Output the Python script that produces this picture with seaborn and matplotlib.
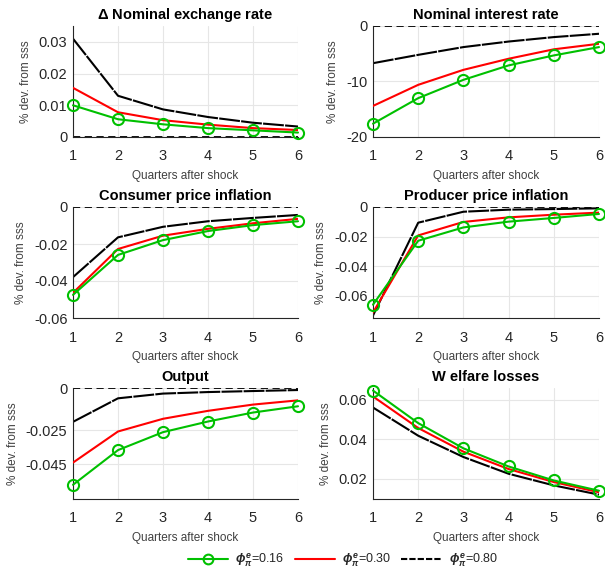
import matplotlib
matplotlib.use("Agg")
import matplotlib.pyplot as plt
import seaborn as sns
import pandas as pd
import numpy as np
from matplotlib.lines import Line2D

quarters = [1, 2, 3, 4, 5, 6]
series_labels = [r"$\phi_{\pi}^{e}$=0.16", r"$\phi_{\pi}^{e}$=0.30", r"$\phi_{\pi}^{e}$=0.80"]

titles = [r"$\mathbf{\Delta}$ Nominal exchange rate", "Nominal interest rate",
          "Consumer price inflation", "Producer price inflation",
          "Output", "W elfare losses"]

exch_016 = [0.0100, 0.0056, 0.0040, 0.0028, 0.0021, 0.0014]
exch_030 = [0.0155, 0.0078, 0.0053, 0.0039, 0.0028, 0.0022]
exch_080 = [0.0310, 0.0130, 0.0087, 0.0063, 0.0045, 0.0033]

int_016 = [-17.6, -13.0, -9.7, -7.1, -5.3, -3.8]
int_030 = [-14.4, -10.6, -7.9, -5.9, -4.2, -3.2]
int_080 = [-6.7, -5.2, -3.8, -2.8, -2.0, -1.4]

cpi_016 = [-0.0475, -0.0259, -0.0179, -0.0130, -0.0098, -0.0077]
cpi_030 = [-0.0464, -0.0227, -0.0155, -0.0118, -0.0088, -0.0064]
cpi_080 = [-0.0379, -0.0164, -0.0107, -0.0077, -0.0059, -0.0043]

ppi_016 = [-0.0660, -0.0228, -0.0138, -0.0099, -0.0074, -0.0047]
ppi_030 = [-0.0713, -0.0192, -0.0101, -0.0070, -0.0052, -0.0038]
ppi_080 = [-0.0733, -0.0106, -0.0032, -0.0018, -0.0014, -0.0009]

out_016 = [-0.0572, -0.0367, -0.0261, -0.0198, -0.0145, -0.0108]
out_030 = [-0.0441, -0.0257, -0.0182, -0.0135, -0.0098, -0.0073]
out_080 = [-0.0200, -0.0061, -0.0033, -0.0024, -0.0018, -0.0012]

wel_016 = [0.0647, 0.0482, 0.0354, 0.0262, 0.0191, 0.0139]
wel_030 = [0.0617, 0.0457, 0.0337, 0.0249, 0.0183, 0.0131]
wel_080 = [0.0561, 0.0418, 0.0310, 0.0225, 0.0166, 0.0119]

panels = [
    (exch_016, exch_030, exch_080),
    (int_016, int_030, int_080),
    (cpi_016, cpi_030, cpi_080),
    (ppi_016, ppi_030, ppi_080),
    (out_016, out_030, out_080),
    (wel_016, wel_030, wel_080),
]
ylims = [(0, 0.035), (-20, 0), (-0.06, 0), (-0.075, 0), (-0.0656, 0), (0.0097, 0.066)]
yticks = [[0, 0.01, 0.02, 0.03], [-20, -10, 0], [-0.06, -0.04, -0.02, 0],
          [-0.06, -0.04, -0.02, 0], [-0.045, -0.025, 0], [0.02, 0.04, 0.06]]
yticklabels = [["0", "0.01", "0.02", "0.03"], ["-20", "-10", "0"],
               ["-0.06", "-0.04", "-0.02", "0"], ["-0.06", "-0.04", "-0.02", "0"],
               ["-0.045", "-0.025", "0"], ["0.02", "0.04", "0.06"]]
zero_line = [True, True, True, True, True, False]

sns.set_theme(style="white")
plt.rcParams['font.family'] = ['Liberation Sans', 'DejaVu Sans']
plt.rcParams['mathtext.fontset'] = 'custom'
plt.rcParams['mathtext.rm'] = 'Liberation Sans'
plt.rcParams['mathtext.it'] = 'Liberation Sans:italic:bold'
plt.rcParams['mathtext.bf'] = 'Liberation Sans:bold'

fig = plt.figure(figsize=(6.05, 5.73), dpi=100)

W, H = 605, 573
lefts = [73, 373]
widths = [225, 226]
tops = [26, 207, 388]
height = 111

GREEN, RED, BLACK = "#00C000", "#FF0000", "#000000"

for i, vals in enumerate(panels):
    r, c = divmod(i, 2)
    ax = fig.add_axes([lefts[c] / W, 1 - (tops[r] + height) / H, widths[c] / W, height / H])
    rows = []
    for lab, v in zip(series_labels, vals):
        for q, y in zip(quarters, v):
            rows.append({"q": q, "y": y, "s": lab})
    df = pd.DataFrame(rows)
    if zero_line[i]:
        ax.axhline(0, color="black", lw=1.3, dashes=(4, 2.5), zorder=1)
    sub = df[df.s == series_labels[2]]
    sns.lineplot(data=sub, x="q", y="y", ax=ax, color=BLACK, lw=1.5, zorder=2)
    ax.lines[-1].set_dashes((10, 0.6))
    sub = df[df.s == series_labels[1]]
    sns.lineplot(data=sub, x="q", y="y", ax=ax, color=RED, lw=1.5, zorder=3)
    sub = df[df.s == series_labels[0]]
    sns.lineplot(data=sub, x="q", y="y", ax=ax, color=GREEN, lw=1.5,
                 marker="o", markersize=8, markerfacecolor="none",
                 markeredgecolor=GREEN, markeredgewidth=1.5, zorder=4, clip_on=False)
    ax.set_xlim(1, 6)
    ax.set_ylim(*ylims[i])
    ax.set_xticks(quarters)
    ax.set_xticklabels([str(q) for q in quarters])
    ax.set_yticks(yticks[i])
    ax.set_yticklabels(yticklabels[i])
    ax.grid(True, color="#e6e6e6", lw=0.8)
    ax.set_axisbelow(True)
    for sp in ["top", "right"]:
        ax.spines[sp].set_visible(False)
    for sp in ["left", "bottom"]:
        ax.spines[sp].set_color("#262626")
        ax.spines[sp].set_linewidth(0.8)
    ax.tick_params(axis="x", length=0, labelsize=10.5, colors="#262626", pad=9)
    ax.tick_params(axis="y", length=0, labelsize=10.5, colors="#262626", pad=4)
    ax.set_title(titles[i], fontsize=10.5, fontweight="bold", color="black", pad=5)
    ax.set_xlabel("Quarters after shock", fontsize=8.5, color="#404040", labelpad=5)
    ax.set_ylabel("% dev. from sss", fontsize=8.5, color="#404040", labelpad=5)

handles = [
    Line2D([], [], color=GREEN, lw=1.5, marker="o", markersize=7,
           markerfacecolor="none", markeredgewidth=1.5),
    Line2D([], [], color=RED, lw=1.5),
    Line2D([], [], color=BLACK, lw=1.5, dashes=(3, 1)),
]
fig.legend(handles, series_labels, loc="center", bbox_to_anchor=(343 / W, 1 - 560 / H),
           ncol=3, frameon=False, fontsize=9, handlelength=3.2, columnspacing=0.8,
           handletextpad=0.6)

fig.savefig("out.png", dpi=100)
